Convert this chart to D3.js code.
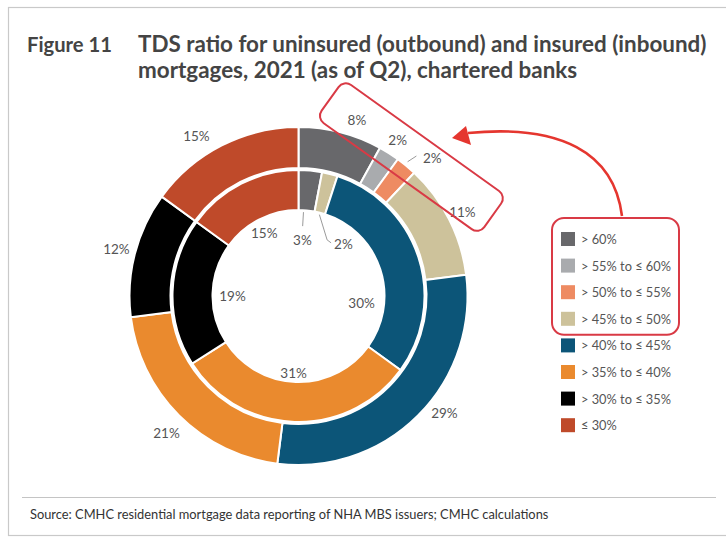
<!DOCTYPE html>
<html>
<head>
<meta charset="utf-8">
<script src="https://cdn.jsdelivr.net/npm/d3@7"></script>
<style>
  html, body { margin: 0; padding: 0; background: #fff; }
  svg { display: block; font-family: Lato, "Open Sans", sans-serif; }
</style>
</head>
<body>
<svg id="chart" width="726" height="540"></svg>
<script>
// TDS ratio bands, outermost band first
const categories = ["> 60%", "> 55% to \u2264 60%", "> 50% to \u2264 55%", "> 45% to \u2264 50%",
                    "> 40% to \u2264 45%", "> 35% to \u2264 40%", "> 30% to \u2264 35%", "\u2264 30%"];
// Share of mortgages (%) in each band
const uninsured = [8, 2, 2, 11, 29, 21, 12, 15];   // outer ring
const insured   = [3, 0, 0, 2, 30, 31, 19, 15];    // inner ring
const colors = ["#68686b", "#a9abae", "#ee8b62", "#cdc29b", "#0c5578", "#ea8a2e", "#000000", "#bf4a2a"];

const titleLabel = "Figure 11";
const titleLines = ["TDS ratio for uninsured (outbound) and insured (inbound)",
                    "mortgages, 2021 (as of Q2), chartered banks"];
const sourceText = "Source: CMHC residential mortgage data reporting of NHA MBS issuers; CMHC calculations";

const svg = d3.select("#chart");

// figure frame
svg.append("rect").attr("x", 8.5).attr("y", 7.5).attr("width", 730).attr("height", 528)
  .attr("fill", "#fff").attr("stroke", "#c9c9c9").attr("stroke-width", 1.2);

// fit a text element's font size so it spans a given width
function fitWidth(sel, target, base) {
  sel.attr("font-size", base);
  const w = sel.node().getComputedTextLength();
  const fs = base * target / w;
  sel.attr("font-size", fs);
  return fs;
}

// title
const tFig = svg.append("text").attr("x", 27).attr("y", 52).attr("fill", "#444")
  .attr("font-weight", 700).text(titleLabel);
fitWidth(tFig, 85, 20);
const t1 = svg.append("text").attr("x", 138).attr("y", 52).attr("fill", "#444")
  .attr("font-weight", 700).text(titleLines[0]);
const titleFs = fitWidth(t1, 569, 20);
svg.append("text").attr("x", 138).attr("y", 78).attr("fill", "#444")
  .attr("font-weight", 700).attr("font-size", titleFs).text(titleLines[1]);

// source
svg.append("line").attr("x1", 22).attr("x2", 716).attr("y1", 497.5).attr("y2", 497.5)
  .attr("stroke", "#c4c4c4").attr("stroke-width", 1);
const src = svg.append("text").attr("x", 30).attr("y", 519).attr("fill", "#333").text(sourceText);
fitWidth(src, 519, 11);

// donut geometry
const cx = 298.5, cy = 296;
const outerR = [128, 169], innerR = [86, 126];
const g = svg.append("g").attr("transform", `translate(${cx},${cy})`);

const pie = d3.pie().sort(null).value(d => d);
const outerArcs = pie(uninsured);
const innerArcs = pie(insured);
const arcOuter = d3.arc().innerRadius(outerR[0]).outerRadius(outerR[1]);
const arcInner = d3.arc().innerRadius(innerR[0]).outerRadius(innerR[1]);

g.selectAll("path.outer").data(outerArcs.filter(d => d.value > 0)).join("path")
  .attr("class", "outer").attr("d", arcOuter)
  .attr("fill", d => colors[d.index]).attr("stroke", "#fff").attr("stroke-width", 2);
g.selectAll("path.inner").data(innerArcs.filter(d => d.value > 0)).join("path")
  .attr("class", "inner").attr("d", arcInner)
  .attr("fill", d => colors[d.index]).attr("stroke", "#fff").attr("stroke-width", 2);

// polar helper: angle in degrees, clockwise from 12 o'clock
const rad = Math.PI / 180;
function polar(r, deg) { return [r * Math.sin(deg * rad), -r * Math.cos(deg * rad)]; }
const mid = d => (d.startAngle + d.endAngle) / 2 / rad;

const labelColor = "#555", labelFs = 13.5;
function label(pt, txt, anchor) {
  g.append("text").attr("x", pt[0]).attr("y", pt[1])
    .attr("text-anchor", anchor || "middle").attr("dominant-baseline", "central")
    .attr("fill", labelColor).attr("font-size", labelFs).text(txt);
}
function leader(pts) {
  g.append("path").attr("d", d3.line()(pts)).attr("fill", "none")
    .attr("stroke", "#9a9a9a").attr("stroke-width", 1);
}

// label placement: angular offset (deg) from the slice middle and radius
const outerPlace = [[4, 185], [0, 185], [4.6, 192], [0, 184], [-6.3, 187], [-1, 190], [0, 188], [-5.5, 190]];
outerArcs.forEach((d, i) => {
  const m = mid(d), [da, r] = outerPlace[i];
  if (i === 2) leader([polar(173, m - 0.5), polar(183, m + 0.5)]);
  label(polar(r, m + da), d.value + "%");
});

const innerPlace = [[-1.4, 56], null, null, null, [24.3, 63.5], [1.9, 77], [-1.8, 66], [-1.4, 72]];
innerArcs.forEach((d, i) => {
  if (d.value === 0) return;
  const m = mid(d);
  if (i === 0) {
    leader([polar(84, m - 2), polar(70, m - 2)]);
    label(polar(56, m - 1.4), d.value + "%");
  } else if (i === 3) {
    const a = polar(84, m), b = polar(63, m + 12.6);
    leader([a, b, [b[0] + 4, b[1] + 3]]);
    label([b[0] + 7, b[1] + 4], d.value + "%", "start");
  } else {
    const [da, r] = innerPlace[i];
    label(polar(r, m + da), d.value + "%");
  }
});

// legend
const legX = 561, legY0 = 239, legStep = 26.6;
const leg = svg.append("g");
categories.forEach((c, i) => {
  const y = legY0 + i * legStep;
  leg.append("rect").attr("x", legX).attr("y", y - 7).attr("width", 14).attr("height", 14)
    .attr("fill", colors[i]);
  leg.append("text").attr("x", legX + 20).attr("y", y).attr("dominant-baseline", "central")
    .attr("fill", "#555").attr("class", "legtxt").text(c);
});
const legTexts = leg.selectAll("text.legtxt");
const legFs = fitWidth(d3.select(legTexts.nodes()[1]), 90, 11);
legTexts.attr("font-size", legFs);

// highlight: legend box around the four highest bands
const red = "#d93a45";
svg.append("rect").attr("x", legX - 9).attr("y", legY0 - 21)
  .attr("width", 127).attr("height", 3 * legStep + 37).attr("rx", 12)
  .attr("fill", "none").attr("stroke", red).attr("stroke-width", 2);

// highlight: rotated box around the matching outer labels
const boxC = polar(179, 39.1);
svg.append("rect").attr("x", -100).attr("y", -23.5).attr("width", 200).attr("height", 47).attr("rx", 9)
  .attr("transform", `translate(${cx + boxC[0]},${cy + boxC[1]}) rotate(35.6)`)
  .attr("fill", "none").attr("stroke", red).attr("stroke-width", 2);

// curved arrow from legend box to label box
const arrowRed = "#e5362f";
svg.append("path").attr("d", "M622,216 C614,152 560,124 468,133")
  .attr("fill", "none").attr("stroke", arrowRed).attr("stroke-width", 2.6);
svg.append("path").attr("d", "M452,138 L466,126 L471,145 Z").attr("fill", arrowRed);
</script>
</body>
</html>
